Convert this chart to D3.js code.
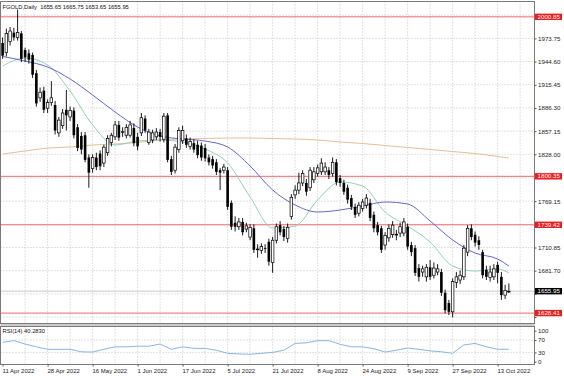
<!DOCTYPE html>
<html lang="en">
<head>
  <meta charset="UTF-8">
  <title>FGOLD Daily</title>
  <script src="https://cdn.jsdelivr.net/npm/d3@7"></script>
  <style>
    body { margin: 0; background: #fff; }
    svg { display: block; font-family: "Liberation Sans", Arial, sans-serif; }
    .grid line { stroke: #c4c4c4; stroke-dasharray: 1,2; }
    .frame { fill: none; stroke: #7a7a7a; stroke-width: 1; }
    .axis text { fill: #222; }
    .axis line { stroke: #555; }
  </style>
</head>
<body>
  <svg id="chart" width="564" height="376"></svg>
  <script>
    // ---- data ----
    const dateLabels = ['11 Apr 2022','28 Apr 2022','16 May 2022','1 Jun 2022','17 Jun 2022','5 Jul 2022',
                        '21 Jul 2022','8 Aug 2022','24 Aug 2022','9 Sep 2022','27 Sep 2022','13 Oct 2022'];
    const labelIdx = [0,12,24,36,48,60,72,84,96,108,120,132];

    const opens = [1968,1956,1970,1981,1975,1980,1959,1955,1953,1930,
      1899,1908,1886,1893,1890,1855,1864,1884,1875,1883,
      1862,1851,1852,1824,1810,1824,1829,1817,1830,1843,
      1850,1865,1856,1852,1852,1861,1850,1855,1873,1843,
      1846,1850,1856,1847,1877,1822,1808,1834,1845,1848,
      1838,1842,1840,1839,1836,1824,1822,1818,1808,1808,
      1808,1767,1742,1737,1743,1734,1724,1735,1708,1707,
      1710,1718,1692,1720,1739,1734,1722,1750,1777,1783,
      1792,1792,1786,1796,1804,1806,1806,1808,1804,1818,
      1798,1792,1786,1773,1762,1754,1760,1764,1767,1752,
      1739,1735,1714,1723,1727,1727,1729,1729,1737,1714,
      1710,1685,1680,1674,1686,1676,1680,1680,1654,1641,
      1630,1667,1670,1674,1705,1735,1727,1720,1705,1683,
      1673,1674,1689,1674,1651,1655.65];
    const highs = [1975,1986,1988,1987,2010,1983,1962,1960,1956,1934,
      1912,1913,1897,1920,1895,1875,1885,1909,1888,1887,
      1866,1856,1856,1828,1828,1830,1833,1840,1852,1855,
      1870,1870,1862,1866,1870,1867,1855,1880,1877,1860,
      1859,1861,1860,1880,1880,1826,1841,1862,1864,1853,
      1849,1847,1845,1843,1841,1828,1826,1822,1811,1816,
      1812,1770,1750,1748,1748,1742,1740,1740,1715,1716,
      1715,1722,1724,1741,1744,1738,1741,1778,1789,1805,
      1808,1797,1812,1812,1815,1823,1818,1812,1824,1822,
      1802,1796,1790,1777,1766,1768,1772,1778,1772,1756,
      1743,1738,1730,1740,1744,1733,1742,1748,1741,1718,
      1714,1690,1688,1690,1695,1692,1690,1684,1658,1645,
      1672,1680,1682,1714,1739,1740,1731,1725,1708,1688,
      1688,1690,1693,1680,1664,1665.75];
    const lows = [1948,1951,1965,1971,1971,1944,1944,1942,1924,1888,
      1894,1880,1880,1889,1853,1850,1860,1858,1870,1848,
      1832,1828,1818,1786,1805,1808,1808,1812,1826,1838,
      1846,1845,1850,1848,1849,1838,1833,1851,1855,1840,
      1842,1846,1844,1843,1818,1802,1804,1830,1841,1836,
      1834,1830,1823,1820,1819,1814,1810,1802,1783,1804,
      1758,1733,1731,1733,1726,1730,1720,1704,1698,1703,
      1704,1688,1679,1716,1726,1719,1717,1746,1772,1778,
      1788,1776,1782,1792,1800,1802,1802,1797,1800,1789,
      1787,1777,1766,1758,1748,1750,1756,1760,1744,1730,
      1726,1704,1708,1718,1723,1720,1724,1725,1708,1700,
      1675,1668,1674,1668,1670,1672,1676,1650,1628,1626,
      1623,1660,1665,1670,1700,1720,1712,1708,1672,1670,
      1668,1670,1666,1645,1646,1653.65];
    const closes = [1952,1980,1983,1975,1981,1948,1950,1947,1928,1892,
      1906,1884,1893,1899,1858,1871,1880,1877,1883,1852,
      1836,1834,1821,1805,1824,1812,1813,1837,1848,1852,
      1865,1849,1856.5,1862,1865,1842,1838,1874,1858,1856,
      1855,1856,1850,1876,1821,1806,1837,1858,1858,1840,
      1844,1834,1827,1824,1823,1818,1814,1806,1805,1812,
      1762,1737,1737,1743,1730,1738,1736,1708,1709,1712,
      1709,1693,1720,1737,1730,1724,1736,1774,1783,1792,
      1804,1781,1808,1806,1811,1817,1812,1802,1818,1793,
      1792,1781,1771,1762,1752,1764,1768,1773,1748,1735,
      1730,1708,1726,1735,1739,1727.5,1737,1743,1712,1705,
      1679,1674,1684,1686,1674,1685,1684,1654,1632,1630,
      1668,1674,1676,1710,1735,1724,1717,1714,1676,1674,
      1680,1684,1679,1651,1657,1655.95];

    // moving averages, read every 6 bars
    const maIdx = [0,6,12,18,24,30,36,42,48,54,60,66,72,78,84,90,96,102,108,114,120,126,132,135];
    const maBlue = [1951.0,1945.3,1937.8,1922.7,1902.6,1881.2,1862.3,1851.0,1847.3,1844.7,1837.2,1813.3,
                    1783.2,1764.3,1755.5,1758.0,1763.0,1768.1,1765.5,1744.2,1720.3,1703.9,1696.4,1687.6];
    const maGreen = [1939.0,1949.1,1940.3,1907.6,1864.9,1839.7,1844.7,1846.0,1843.5,1834.7,1817.1,1774.4,
                     1735.4,1737.9,1770.6,1793.2,1788.2,1755.5,1737.9,1717.8,1687.6,1681.3,1683.8,1678.8];
    const maOrange = [1828.4,1832.2,1835.9,1837.2,1839.7,1841.0,1842.9,1846.0,1847.3,1847.9,1848.5,1848.5,
                      1847.9,1847.3,1846.0,1843.5,1841.6,1839.1,1836.6,1834.1,1831.5,1829.0,1825.3,1823.4];

    // RSI(14), read every 3 bars
    const rsiIdx = d3.range(0, 136, 3);
    const rsiVals = [62.5,68,57,48,40,40,40,32,31,40,48,48,50,50,57,40,48,43,43,37,27,25,24,
                     27,30,37,59,61,68,68,56,48,48,42,31,37,44,40,35,32,27,54,59,48,40,40.283];

    const priceTicks = [1623.40,1652.55,1681.70,1710.85,1740.00,1769.15,1798.30,1828.00,
                        1857.15,1886.30,1915.45,1944.60,1973.75,2002.90];
    const levels = [2000.85, 1800.35, 1739.42, 1628.41];
    const rsiTicks = [0, 30, 70, 100];
    const lastPrice = 1655.95;

    // ---- layout ----
    const PLOT = {left: 0.5, right: 534.5, top: 1.5, bottom: 323.5};
    const RSI = {top: 326.5, bottom: 364.5};

    const svg = d3.select('#chart');
    const x = d3.scaleLinear().domain([0, 141.7]).range([2.6, 534]);
    const y = d3.scaleLinear().domain([1615.95, 2019.5]).range([323, 2]);
    const yR = d3.scaleLinear().domain([0, 100]).range([361.7, 330.7]);

    svg.append('clipPath').attr('id', 'clipMain')
      .append('rect').attr('x', PLOT.left).attr('y', PLOT.top)
      .attr('width', PLOT.right - PLOT.left).attr('height', PLOT.bottom - PLOT.top);

    // grid
    const grid = svg.append('g').attr('class', 'grid');
    grid.selectAll('.hg').data(priceTicks).join('line')
      .attr('x1', PLOT.left).attr('x2', PLOT.right)
      .attr('y1', d => y(d)).attr('y2', d => y(d));
    const vIdx = d3.range(6, 140, 6);
    grid.selectAll('.vg').data(vIdx).join('line')
      .attr('x1', d => x(d)).attr('x2', d => x(d))
      .attr('y1', PLOT.top).attr('y2', PLOT.bottom);
    grid.selectAll('.vr').data(vIdx).join('line')
      .attr('x1', d => x(d)).attr('x2', d => x(d))
      .attr('y1', RSI.top).attr('y2', RSI.bottom);
    grid.selectAll('.rl').data([30, 70]).join('line')
      .attr('x1', PLOT.left).attr('x2', PLOT.right)
      .attr('y1', d => yR(d)).attr('y2', d => yR(d));

    const main = svg.append('g').attr('clip-path', 'url(#clipMain)');

    // horizontal levels and bid line
    main.selectAll('.lvl').data(levels).join('line')
      .attr('x1', PLOT.left).attr('x2', PLOT.right)
      .attr('y1', d => y(d)).attr('y2', d => y(d))
      .attr('stroke', '#f06a6a').attr('stroke-width', 1);
    main.append('line')
      .attr('x1', PLOT.left).attr('x2', PLOT.right)
      .attr('y1', y(lastPrice)).attr('y2', y(lastPrice))
      .attr('stroke', '#c8c8c8');

    // moving averages
    const maLine = vals => d3.line()
      .x((d, i) => x(maIdx[i])).y(d => y(d))
      .curve(d3.curveMonotoneX)(vals);
    [[maOrange, '#e8bd92'], [maGreen, '#92d1b4'], [maBlue, '#6464d2']].forEach(([vals, col]) => {
      main.append('path').attr('d', maLine(vals))
        .attr('fill', 'none').attr('stroke', col).attr('stroke-width', 1);
    });

    // candles
    const bars = opens.map((o, i) => ({i, o, h: highs[i], l: lows[i], c: closes[i]}));
    const bw = 2.6;
    const candle = main.append('g').selectAll('g').data(bars).join('g');
    candle.append('line')
      .attr('x1', d => x(d.i)).attr('x2', d => x(d.i))
      .attr('y1', d => y(d.h)).attr('y2', d => y(d.l))
      .attr('stroke', '#000').attr('stroke-width', 0.9);
    candle.append('rect')
      .attr('x', d => x(d.i) - bw / 2)
      .attr('y', d => y(Math.max(d.o, d.c)))
      .attr('width', bw)
      .attr('height', d => Math.max(0.8, Math.abs(y(d.o) - y(d.c))))
      .attr('fill', d => d.c >= d.o ? '#fff' : '#000')
      .attr('stroke', '#000').attr('stroke-width', d => d.c >= d.o ? 0.7 : 0);

    // RSI line
    svg.append('path')
      .attr('d', d3.line().x((d, i) => x(rsiIdx[i])).y(d => yR(d))(rsiVals))
      .attr('fill', 'none').attr('stroke', '#86b6e8').attr('stroke-width', 1);

    // frames
    svg.append('rect').attr('class', 'frame')
      .attr('x', PLOT.left).attr('y', PLOT.top)
      .attr('width', PLOT.right - PLOT.left).attr('height', PLOT.bottom - PLOT.top);
    svg.append('rect').attr('class', 'frame')
      .attr('x', PLOT.left).attr('y', RSI.top)
      .attr('width', PLOT.right - PLOT.left).attr('height', RSI.bottom - RSI.top);
    svg.append('line').attr('x1', PLOT.left).attr('x2', PLOT.right)
      .attr('y1', 325).attr('y2', 325).attr('stroke', '#9a9a9a');

    // axes
    function styleAxis (g, size) {
      g.attr('class', 'axis').attr('font-size', size)
        .attr('font-family', '"Liberation Sans", Arial, sans-serif');
      g.select('.domain').remove();
    }
    // tick labels that sit under a price tag are hidden, as on the terminal
    const tagged = levels.concat([lastPrice]);
    const covered = v => tagged.some(t => Math.abs(y(t) - y(v)) < 6);
    svg.append('g').attr('transform', `translate(${PLOT.right},0)`)
      .call(d3.axisRight(y).tickValues(priceTicks).tickSize(2).tickPadding(1.5).tickFormat(d3.format('.2f')))
      .call(g => styleAxis(g, 6.2))
      .call(g => g.selectAll('.tick text').filter(d => covered(d)).remove());
    svg.append('g').attr('transform', `translate(${PLOT.right},0)`)
      .call(d3.axisRight(yR).tickValues(rsiTicks).tickSize(2).tickPadding(1.5))
      .call(g => styleAxis(g, 6.2));
    svg.append('g').attr('transform', `translate(0,${RSI.bottom})`)
      .call(d3.axisBottom(x).tickValues(labelIdx).tickSize(2).tickPadding(2.5)
        .tickFormat((d, i) => dateLabels[i]))
      .call(g => styleAxis(g, 6))
      .call(g => g.selectAll('text').attr('text-anchor', 'start').attr('x', -0.6));

    // price tags on the right
    function tag (value, fill) {
      const g = svg.append('g').attr('transform', `translate(${PLOT.right + 0.5},${y(value)})`);
      g.append('rect').attr('x', 0).attr('y', -3.2).attr('width', 27).attr('height', 6.4).attr('fill', fill);
      g.append('text').attr('x', 2.5).attr('dy', '0.34em')
        .attr('font-size', 6.2).attr('fill', '#fff').text(value.toFixed(2));
    }
    levels.forEach(v => tag(v, '#ee1c1c'));
    tag(lastPrice, '#000');

    // titles
    svg.append('text').attr('x', 2.5).attr('y', 8.6).attr('font-size', 5.8).attr('fill', '#111')
      .attr('xml:space', 'preserve')
      .text(`FGOLD,Daily  ${opens[135].toFixed(2)} ${highs[135].toFixed(2)} ${lows[135].toFixed(2)} ${closes[135].toFixed(2)}`);
    svg.append('text').attr('x', 2.5).attr('y', 333).attr('font-size', 5.8).attr('fill', '#111')
      .text(`RSI(14) ${rsiVals[rsiVals.length - 1].toFixed(4)}`);
  </script>
</body>
</html>
